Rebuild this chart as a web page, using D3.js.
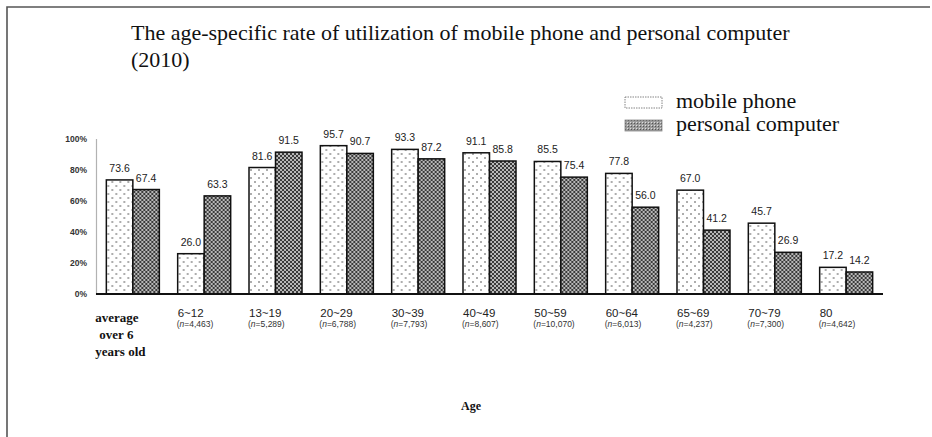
<!DOCTYPE html>
<html>
<head>
<meta charset="utf-8">
<script src="https://cdn.jsdelivr.net/npm/d3@7"></script>
<style>
  body { margin: 0; background: #fff; }
  svg { display: block; }
</style>
</head>
<body>
<script>
// data
const categories = ['average over 6 years old', '6~12', '13~19', '20~29', '30~39', '40~49',
                    '50~59', '60~64', '65~69', '70~79', '80'];
const sampleSizes = [null, '4,463', '5,289', '6,788', '7,793', '8,607',
                     '10,070', '6,013', '4,237', '7,300', '4,642'];
const mobilePhone = [73.6, 26.0, 81.6, 95.7, 93.3, 91.1, 85.5, 77.8, 67.0, 45.7, 17.2];
const personalComputer = [67.4, 63.3, 91.5, 90.7, 87.2, 85.8, 75.4, 56.0, 41.2, 26.9, 14.2];
const seriesNames = ['mobile phone', 'personal computer'];
const yTicks = [0, 20, 40, 60, 80, 100];

function renderChart() {
    const width = 932;
    const height = 437;
    const plot = { left: 96, right: 883, top: 139, bottom: 294 };
    const serif = '"Liberation Serif", "Times New Roman", serif';
    const sans = 'Arial, "Liberation Sans", sans-serif';

    const svg = d3.select('body').append('svg')
        .attr('width', width)
        .attr('height', height);

    // patterns for the two fills
    const defs = svg.append('defs');
    const dots = defs.append('pattern')
        .attr('id', 'dots')
        .attr('patternUnits', 'userSpaceOnUse')
        .attr('width', 8).attr('height', 8);
    dots.append('rect').attr('width', 8).attr('height', 8).attr('fill', '#fff');
    dots.append('circle').attr('cx', 2).attr('cy', 2).attr('r', 0.8).attr('fill', '#444');
    dots.append('circle').attr('cx', 6).attr('cy', 6).attr('r', 0.8).attr('fill', '#444');

    const hatch = defs.append('pattern')
        .attr('id', 'hatch')
        .attr('patternUnits', 'userSpaceOnUse')
        .attr('width', 4).attr('height', 4);
    hatch.append('rect').attr('width', 4).attr('height', 4).attr('fill', '#b8b8b8');
    hatch.append('path').attr('d', 'M0,0L4,4M4,0L0,4')
        .attr('stroke', '#3a3a3a').attr('stroke-width', 1);

    const stipple = defs.append('pattern')
        .attr('id', 'stipple')
        .attr('patternUnits', 'userSpaceOnUse')
        .attr('width', 3).attr('height', 3);
    stipple.append('rect').attr('width', 3).attr('height', 3).attr('fill', '#9a9a9a');
    stipple.append('rect').attr('width', 1).attr('height', 1).attr('fill', '#555');
    stipple.append('rect').attr('x', 2).attr('y', 2).attr('width', 1).attr('height', 1).attr('fill', '#ddd');

    // frame
    svg.append('path')
        .attr('d', `M7,${height}V7H930`)
        .attr('fill', 'none')
        .attr('stroke', '#555')
        .attr('stroke-width', 1.6);

    // title
    const title = svg.append('text')
        .attr('font-family', serif)
        .attr('font-size', '22px')
        .attr('fill', '#111');
    title.append('tspan').attr('x', 131).attr('y', 40)
        .text('The age-specific rate of utilization of mobile phone and personal computer');
    title.append('tspan').attr('x', 131).attr('y', 67).text('(2010)');

    // legend
    const legend = svg.append('g').attr('transform', 'translate(625,97)');
    seriesNames.forEach((name, i) => {
        const row = legend.append('g').attr('transform', `translate(0,${i * 23})`);
        row.append('rect')
            .attr('width', 37).attr('height', 11)
            .attr('fill', i === 0 ? '#fff' : 'url(#stipple)')
            .attr('stroke', i === 0 ? '#666' : '#888')
            .attr('stroke-width', 0.8)
            .attr('stroke-dasharray', i === 0 ? '1.5,1' : null);
        row.append('text')
            .attr('x', 51).attr('y', 11)
            .attr('font-family', serif)
            .attr('font-size', '22px')
            .attr('fill', '#111')
            .text(name);
    });

    // scales
    const x = d3.scaleBand()
        .domain(categories)
        .range([plot.left, plot.right])
        .paddingInner(0.257)
        .paddingOuter(0.145);
    const xs = d3.scaleBand()
        .domain(seriesNames)
        .range([0, x.bandwidth()]);
    const y = d3.scaleLinear()
        .domain([0, 100])
        .range([plot.bottom, plot.top]);

    // y axis
    const yAxis = svg.append('g')
        .attr('transform', `translate(${plot.left},0)`)
        .call(d3.axisLeft(y).tickValues(yTicks).tickSize(0).tickPadding(9)
            .tickFormat(d => d + '%'));
    yAxis.select('.domain')
        .attr('stroke', '#666')
        .attr('stroke-width', 1.2)
        .attr('stroke-dasharray', '1,1');
    yAxis.selectAll('text')
        .attr('font-family', sans)
        .attr('font-size', '8.5px')
        .attr('font-weight', 'bold')
        .attr('fill', '#333');

    // bars
    const rows = categories.map((c, i) => ({
        category: c,
        values: [mobilePhone[i], personalComputer[i]]
    }));
    const groups = svg.append('g').selectAll('g')
        .data(rows)
        .join('g')
        .attr('transform', d => `translate(${x(d.category)},0)`);

    groups.selectAll('rect')
        .data(d => d.values.map((v, j) => ({ series: seriesNames[j], value: v, j })))
        .join('rect')
        .attr('x', d => xs(d.series))
        .attr('y', d => y(d.value))
        .attr('width', xs.bandwidth())
        .attr('height', d => y(0) - y(d.value))
        .attr('fill', d => d.j === 0 ? 'url(#dots)' : 'url(#hatch)')
        .attr('stroke', '#111')
        .attr('stroke-width', 1.5);

    groups.selectAll('text.value')
        .data(d => d.values.map((v, j) => ({ series: seriesNames[j], value: v })))
        .join('text')
        .attr('class', 'value')
        .attr('x', d => xs(d.series) + xs.bandwidth() / 2)
        .attr('y', d => y(d.value) - 8)
        .attr('text-anchor', 'middle')
        .attr('font-family', sans)
        .attr('font-size', '10.5px')
        .attr('fill', '#222')
        .text(d => d3.format('.1f')(d.value));

    // baseline
    svg.append('line')
        .attr('x1', plot.left).attr('x2', plot.right)
        .attr('y1', y(0)).attr('y2', y(0))
        .attr('stroke', '#111')
        .attr('stroke-width', 1.8);

    // category labels
    const firstLines = ['average', 'over 6', 'years old'];
    const first = svg.append('text')
        .attr('font-family', serif)
        .attr('font-size', '13px')
        .attr('font-weight', 'bold')
        .attr('fill', '#111');
    firstLines.forEach((t, i) => {
        first.append('tspan')
            .attr('x', x(categories[0]) - 11 + (i === 1 ? 4 : 0))
            .attr('y', 322 + i * 17)
            .text(t);
    });

    categories.slice(1).forEach((c, k) => {
        const i = k + 1;
        const lx = x(c);
        svg.append('text')
            .attr('x', lx).attr('y', 317)
            .attr('font-family', sans)
            .attr('font-size', '11.5px')
            .attr('fill', '#222')
            .text(c);
        const n = svg.append('text')
            .attr('x', lx - 1).attr('y', 327)
            .attr('font-family', sans)
            .attr('font-size', '8.5px')
            .attr('fill', '#333');
        n.append('tspan').text('(');
        n.append('tspan').attr('font-style', 'italic').text('n');
        n.append('tspan').text('=' + sampleSizes[i] + ')');
    });

    // x axis title
    svg.append('text')
        .attr('x', 471).attr('y', 410)
        .attr('text-anchor', 'middle')
        .attr('font-family', serif)
        .attr('font-size', '12px')
        .attr('font-weight', 'bold')
        .attr('fill', '#111')
        .text('Age');
}

window.addEventListener('load', function() {
    requestAnimationFrame(renderChart);
});
</script>
</body>
</html>
